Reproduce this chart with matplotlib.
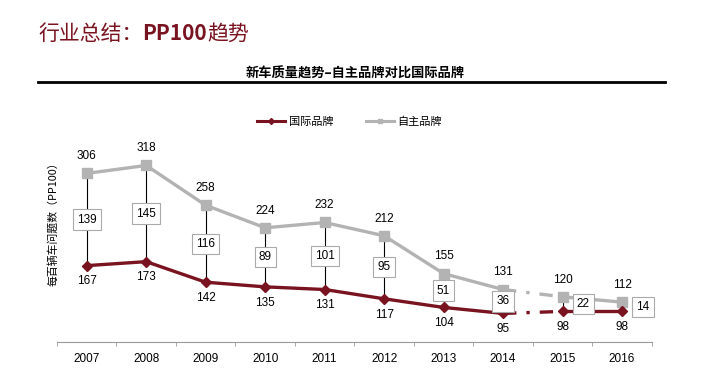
import numpy as np
import matplotlib.pyplot as plt
from matplotlib.lines import Line2D

plt.rcParams['font.family'] = ['Noto Sans CJK SC', 'DejaVu Sans']

years = ['2007', '2008', '2009', '2010', '2011', '2012', '2013', '2014', '2015', '2016']
intl = [167, 173, 142, 135, 131, 117, 104, 95, 98, 98]
domestic = [306, 318, 258, 224, 232, 212, 155, 131, 120, 112]
gap = [139, 145, 116, 89, 101, 95, 51, 36, 22, 14]

red = '#7a1320'
grey = '#b3b3b3'
num_font = ['Liberation Sans', 'DejaVu Sans']

fig = plt.figure(figsize=(7.21, 3.89), dpi=100)
ax = fig.add_axes([0.079, 0.121, 0.825, 0.51])
x = np.arange(len(years))

# solid part up to 2014, dashed bridge 2014-2015, solid after
for vals, c, m, ms in [(domestic, grey, 's', 7), (intl, red, 'D', 5)]:
    ax.plot(x[:8], vals[:8], color=c, lw=2.4, marker=m, ms=ms, zorder=3)
    ax.plot(x[7:9], vals[7:9], color=c, lw=2.4, ls=(0, (4, 3, 1, 3)), zorder=3)
    ax.plot(x[8:], vals[8:], color=c, lw=2.4, marker=m, ms=ms, zorder=3)

for i in range(len(years)):
    ax.plot([x[i], x[i]], [intl[i], domestic[i]], color='black', lw=0.8, zorder=2)
    dx = 0.35 if i >= 8 else 0
    ax.text(x[i] + dx, (intl[i] + domestic[i]) / 2, str(gap[i]), ha='center', va='center',
            fontsize=8.5, family=num_font, zorder=4,
            bbox=dict(boxstyle='square,pad=0.35', fc='white', ec='#aaaaaa', lw=0.8))
    ax.annotate(str(domestic[i]), (x[i], domestic[i]), xytext=(0, 8),
                textcoords='offset points', ha='center', va='bottom',
                fontsize=8.5, family=num_font)
    ax.annotate(str(intl[i]), (x[i], intl[i]), xytext=(0, -7),
                textcoords='offset points', ha='center', va='top',
                fontsize=8.5, family=num_font)

ax.set_xlim(-0.5, len(years) - 0.5)
ax.set_ylim(52, 351)
ax.set_yticks([])
ax.set_xticks(x)
ax.set_xticklabels(years, fontsize=8.5, family=num_font)
ax.set_xticks(np.arange(-0.5, len(years)), minor=True)
ax.tick_params(axis='x', which='major', length=0, pad=8)
ax.tick_params(axis='x', which='minor', length=3, color='#999999')
for s in ['top', 'right', 'left']:
    ax.spines[s].set_visible(False)
ax.spines['bottom'].set_color('#999999')
ax.set_ylabel('每百辆车问题数（PP100）', fontsize=7.8)
ax.yaxis.set_label_coords(0.002, 0.61)

# legend
handles = [Line2D([], [], color=red, lw=2.2, marker='D', ms=3),
           Line2D([], [], color=grey, lw=2.2, marker='s', ms=3)]
fig.legend(handles, ['国际品牌', '自主品牌'], loc='center', bbox_to_anchor=(0.485, 0.686),
           ncol=2, frameon=False, fontsize=8, handlelength=2.5, columnspacing=3, handletextpad=0.3)

# headings
ty = 0.897
t1 = fig.text(0.053, ty, '行业总结：', color=red, fontsize=15, va='baseline')
t2 = fig.text(0, 0, 'PP100', color=red, fontsize=15, fontweight='bold', va='baseline')
t3 = fig.text(0, 0, '趋势', color=red, fontsize=15, va='baseline')
fig.canvas.draw()
r = fig.canvas.get_renderer()
bb = t1.get_window_extent(r).transformed(fig.transFigure.inverted())
t2.set_position((bb.x1, ty))
bb = t2.get_window_extent(r).transformed(fig.transFigure.inverted())
t3.set_position((bb.x1, ty))

fig.text(0.492, 0.812, '新车质量趋势–自主品牌对比国际品牌', ha='center', va='center',
         fontsize=9.5, fontweight='bold')
fig.add_artist(Line2D([0.053, 0.922], [0.789, 0.789], color='black', lw=2))

fig.savefig('out.png', dpi=100, facecolor='white')
